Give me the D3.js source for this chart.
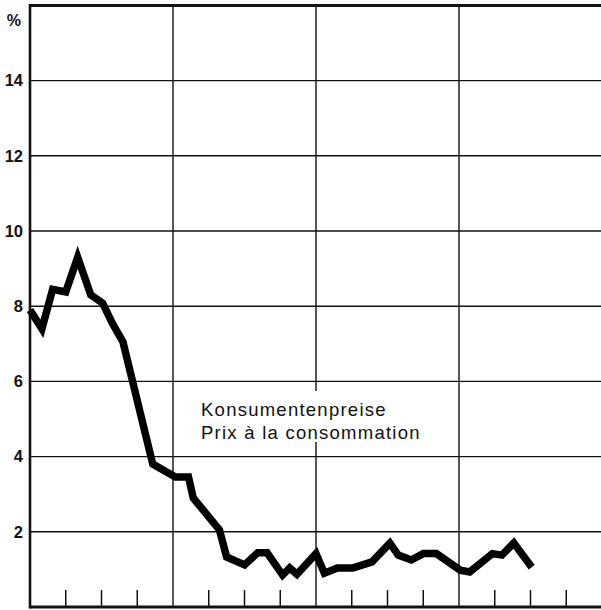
<!DOCTYPE html>
<html>
<head>
<meta charset="utf-8">
<script src="https://cdn.jsdelivr.net/npm/d3@7"></script>
<style>
  body { margin: 0; background: #fff; }
  svg { display: block; }
  text { font-family: "Liberation Sans", Arial, sans-serif; fill: #111; }
</style>
</head>
<body>
<div id="chart"></div>
<script>
// months since start of chart and rate in %
const months = [0, 1, 1.9, 3, 4, 5.1, 6.1, 6.9, 7.8, 10.3, 12.2, 13.3, 13.7, 15.9, 16.5,
  18, 19.1, 19.9, 21.2, 21.8, 22.4, 24, 24.7, 25.8, 27.1, 28.7, 30.2, 30.9, 32, 33,
  34.1, 36.1, 36.9, 38.8, 39.6, 40.6, 42.1];
const rates = [7.9, 7.4, 8.45, 8.38, 9.3, 8.3, 8.08, 7.55, 7.05, 3.8, 3.46, 3.46, 2.9, 2.05, 1.33,
  1.12, 1.44, 1.44, 0.85, 1.04, 0.87, 1.42, 0.9, 1.04, 1.04, 1.2, 1.7, 1.38, 1.25, 1.42,
  1.42, 0.98, 0.93, 1.42, 1.38, 1.7, 1.06];
const yTicks = [2, 4, 6, 8, 10, 12, 14];
const yearLines = [12, 24, 36];
const quarterTicks = [3, 6, 9, 15, 18, 21, 27, 30, 33, 39, 42, 45];
const labelLines = ["Konsumentenpreise", "Prix à la consommation"];

const W = 601, H = 610;
const x = d3.scaleLinear().domain([0, 48]).range([30, 602]);
const y = d3.scaleLinear().domain([0, 16]).range([607, 5.4]);

const svg = d3.select("#chart").append("svg")
  .attr("width", W).attr("height", H);

// horizontal grid
svg.append("g").selectAll("line").data(yTicks).enter().append("line")
  .attr("x1", x(0)).attr("x2", W)
  .attr("y1", d => y(d)).attr("y2", d => y(d))
  .attr("stroke", "#111").attr("stroke-width", 1.4);

// year lines
svg.append("g").selectAll("line").data(yearLines).enter().append("line")
  .attr("x1", d => x(d)).attr("x2", d => x(d))
  .attr("y1", y(16)).attr("y2", y(0))
  .attr("stroke", "#111").attr("stroke-width", 1.4);

// quarter ticks at bottom
svg.append("g").selectAll("line").data(quarterTicks).enter().append("line")
  .attr("x1", d => x(d)).attr("x2", d => x(d))
  .attr("y1", y(0.45)).attr("y2", y(0))
  .attr("stroke", "#111").attr("stroke-width", 1.5);

// frame: top, bottom, left
svg.append("line").attr("x1", x(0)).attr("x2", W).attr("y1", y(16)).attr("y2", y(16))
  .attr("stroke", "#111").attr("stroke-width", 3);
svg.append("line").attr("x1", x(0)).attr("x2", W).attr("y1", y(0)).attr("y2", y(0))
  .attr("stroke", "#111").attr("stroke-width", 3);
svg.append("line").attr("x1", x(0)).attr("x2", x(0)).attr("y1", y(16) - 1.5).attr("y2", y(0) + 1.5)
  .attr("stroke", "#111").attr("stroke-width", 2.6);

// y labels
svg.append("g").selectAll("text").data(yTicks).enter().append("text")
  .attr("x", 23).attr("y", d => y(d))
  .attr("dy", "0.35em")
  .attr("text-anchor", "end")
  .attr("font-size", 16.5).attr("font-weight", "bold")
  .text(d => d);
svg.append("text")
  .attr("x", 21).attr("y", y(15.6)).attr("dy", "0.35em")
  .attr("text-anchor", "end")
  .attr("font-size", 16).attr("font-weight", "bold")
  .text("%");

// label with white background over grid
svg.append("rect")
  .attr("x", 196).attr("y", 391).attr("width", 228).attr("height", 51)
  .attr("fill", "#fff");
svg.append("g").selectAll("text").data(labelLines).enter().append("text")
  .attr("x", 201).attr("y", (d, i) => 416 + i * 23)
  .attr("font-size", 18.5)
  .attr("letter-spacing", 1.25)
  .text(d => d);

// series line
const line = d3.line()
  .x((d, i) => x(months[i]))
  .y(d => y(d));
svg.append("path")
  .datum(rates)
  .attr("d", line)
  .attr("fill", "none")
  .attr("stroke", "#000")
  .attr("stroke-width", 7.5)
  .attr("stroke-linejoin", "miter")
  .attr("stroke-linecap", "butt");
</script>
</body>
</html>
